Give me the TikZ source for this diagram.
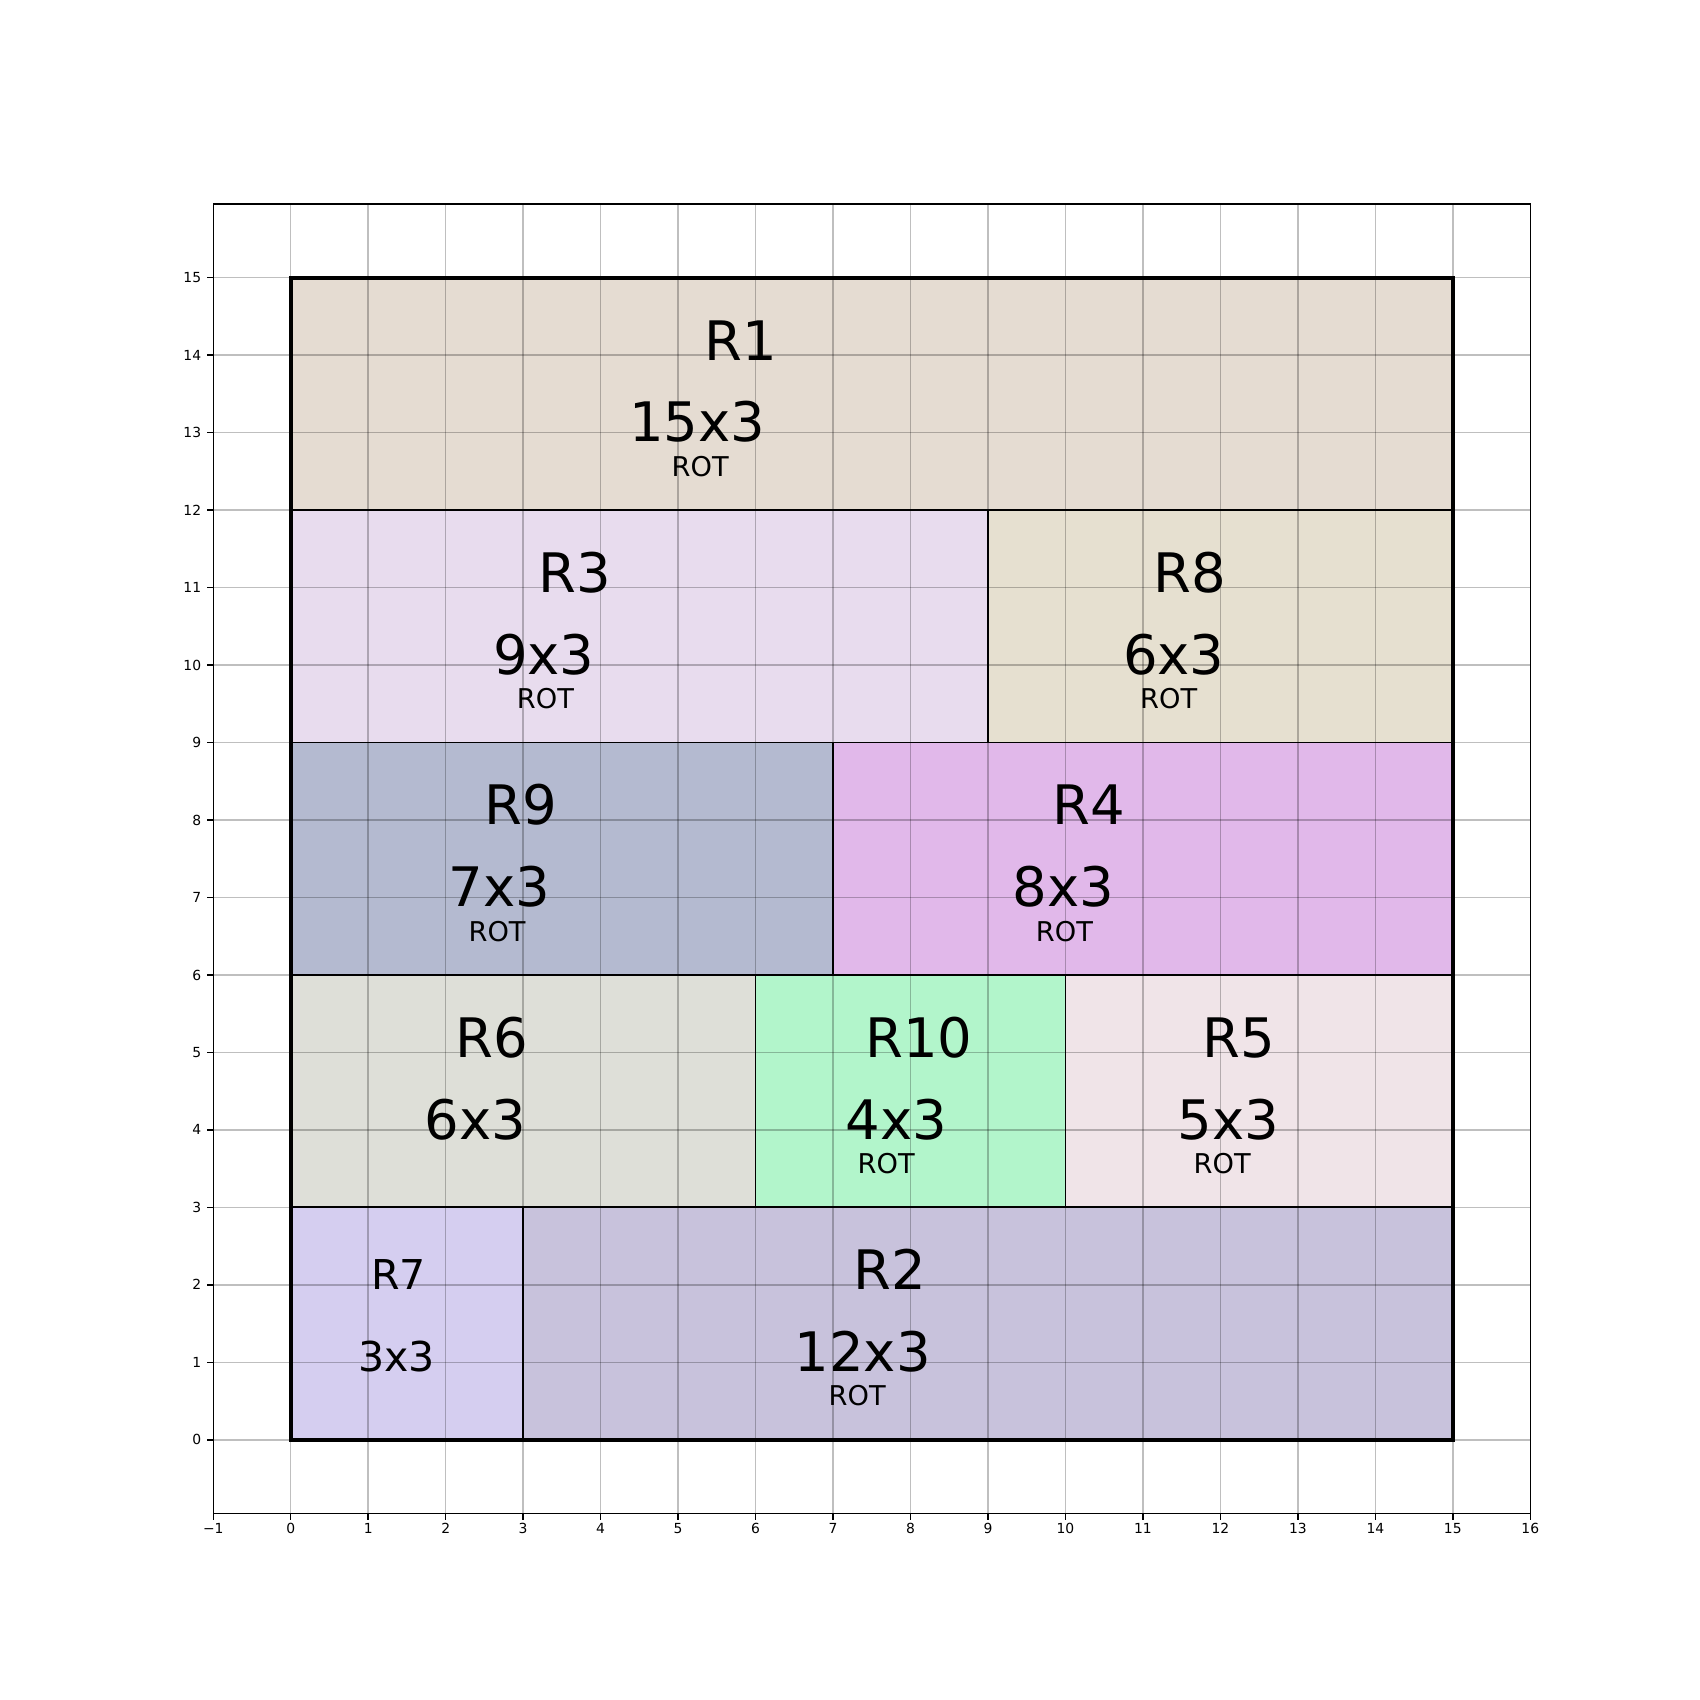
\documentclass[tikz,border=0pt]{standalone}
\usepackage{fontspec}
\setmainfont{DejaVu Sans}
\definecolor{cR1}{RGB}{229,220,210}
\definecolor{cR3}{RGB}{232,220,238}
\definecolor{cR8}{RGB}{230,224,208}
\definecolor{cR9}{RGB}{180,186,208}
\definecolor{cR4}{RGB}{225,184,234}
\definecolor{cR6}{RGB}{222,223,216}
\definecolor{cR10}{RGB}{178,245,203}
\definecolor{cR5}{RGB}{240,228,232}
\definecolor{cR7}{RGB}{213,206,240}
\definecolor{cR2}{RGB}{200,194,220}
\begin{document}
\begin{tikzpicture}[x=1cm,y=1cm,
  lbl/.style={anchor=base, inner sep=0pt, font=\fontsize{20}{22}\selectfont},
  lblsm/.style={anchor=base, inner sep=0pt, font=\fontsize{15.1}{17}\selectfont},
  rotlbl/.style={anchor=base, inner sep=0pt, font=\fontsize{10}{12}\selectfont},
  ticklbl/.style={inner sep=0pt, font=\fontsize{5.1}{6}\selectfont},
  gridline/.style={draw=black, draw opacity=0.25, line width=0.54pt},
  rectedge/.style={draw=black, line width=0.67pt},
  tickmark/.style={draw=black, line width=0.54pt},
]
\useasboundingbox (-3.753,-3.359) rectangle (18.191,18.585);
\fill[white] (-3.753,-3.359) rectangle (18.191,18.585);
% fills
\fill[cR1] (0,12) rectangle (15,15);
\fill[cR3] (0,9) rectangle (9,12);
\fill[cR8] (9,9) rectangle (15,12);
\fill[cR9] (0,6) rectangle (7,9);
\fill[cR4] (7,6) rectangle (15,9);
\fill[cR6] (0,3) rectangle (6,6);
\fill[cR10] (6,3) rectangle (10,6);
\fill[cR5] (10,3) rectangle (15,6);
\fill[cR7] (0,0) rectangle (3,3);
\fill[cR2] (3,0) rectangle (15,3);
% grid
\foreach \x in {0,...,15} \draw[gridline] (\x,-0.95) -- (\x,15.95);
\foreach \y in {0,...,15} \draw[gridline] (-1,\y) -- (16,\y);
% rect edges
\draw[rectedge] (0,12) rectangle (15,15);
\draw[rectedge] (0,9) rectangle (9,12);
\draw[rectedge] (9,9) rectangle (15,12);
\draw[rectedge] (0,6) rectangle (7,9);
\draw[rectedge] (7,6) rectangle (15,9);
\draw[rectedge] (0,3) rectangle (6,6);
\draw[rectedge] (6,3) rectangle (10,6);
\draw[rectedge] (10,3) rectangle (15,6);
\draw[rectedge] (0,0) rectangle (3,3);
\draw[rectedge] (3,0) rectangle (15,3);
\draw[draw=black, line width=1.33pt] (0,0) rectangle (15,15);
% spines
\draw[line width=0.54pt] (-1,-0.95) rectangle (16,15.95);
% x ticks
\foreach \x/\t in {-1/{−1},0/0,1/1,2/2,3/3,4/4,5/5,6/6,7/7,8/8,9/9,10/10,11/11,12/12,13/13,14/14,15/15,16/16} {
  \draw[tickmark] (\x,-0.95) -- (\x,-1.033);
  \node[ticklbl, anchor=base] (xt\x) at (\x,-1.207) {\t};
}
% y ticks
\foreach \y in {0,...,15} {
  \draw[tickmark] (-1,\y) -- (-1.083,\y);
  \node[ticklbl, anchor=east] (yt\y) at (-1.15,\y) {\y};
}
% labels
\node[lbl] (n1) at (5.805,13.937) {R1};
\node[lbl] (d1) at (5.246,12.882) {15x3};
\node[rotlbl] (o1) at (5.285,12.437) {ROT};
\node[lbl] (n3) at (3.665,10.937) {R3};
\node[lbl] (d3) at (3.266,9.882) {9x3};
\node[rotlbl] (o3) at (3.288,9.437) {ROT};
\node[lbl] (n8) at (11.603,10.937) {R8};
\node[lbl] (d8) at (11.398,9.882) {6x3};
\node[rotlbl] (o8) at (11.333,9.437) {ROT};
\node[lbl] (n9) at (2.965,7.937) {R9};
\node[lbl] (d9) at (2.697,6.882) {7x3};
\node[rotlbl] (o9) at (2.664,6.437) {ROT};
\node[lbl] (n4) at (10.301,7.937) {R4};
\node[lbl] (d4) at (9.978,6.882) {8x3};
\node[rotlbl] (o4) at (9.987,6.437) {ROT};
\node[lbl] (n6) at (2.600,4.937) {R6};
\node[lbl] (d6) at (2.384,3.882) {6x3};
\node[lbl] (n10) at (8.106,4.937) {R10};
\node[lbl] (d10) at (7.816,3.882) {4x3};
\node[rotlbl] (o10) at (7.686,3.437) {ROT};
\node[lbl] (n5) at (12.242,4.937) {R5};
\node[lbl] (d5) at (12.101,3.882) {5x3};
\node[rotlbl] (o5) at (12.023,3.437) {ROT};
\node[lblsm] (n7) at (1.394,1.937) {R7};
\node[lblsm] (d7) at (1.367,0.882) {3x3};
\node[lbl] (n2) at (7.735,1.937) {R2};
\node[lbl] (d2) at (7.382,0.882) {12x3};
\node[rotlbl] (o2) at (7.311,0.437) {ROT};
\end{tikzpicture}
\end{document}
